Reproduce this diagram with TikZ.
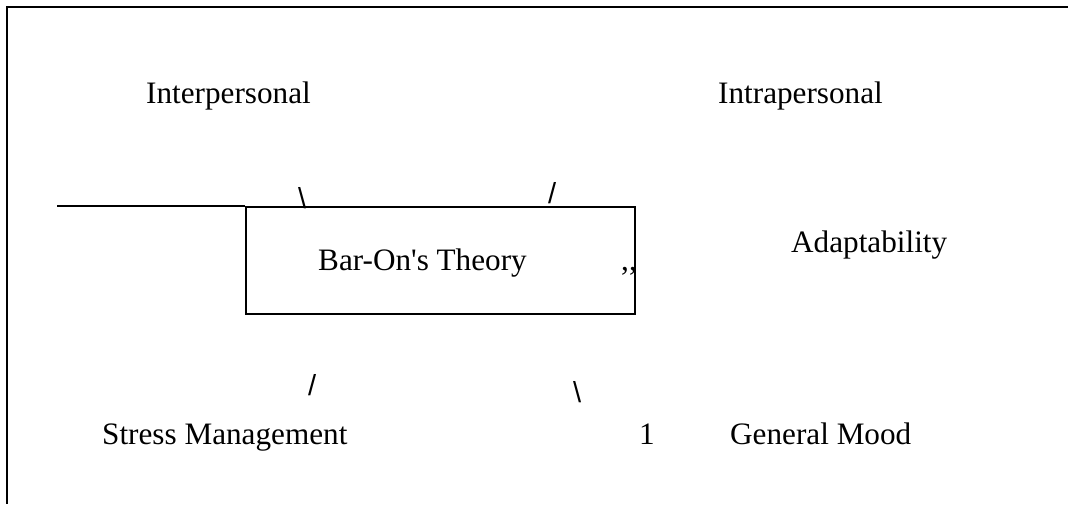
\documentclass[tikz,border=0pt]{standalone}
\usepackage{fontspec}
\setmainfont{Liberation Serif}
\newfontfamily\slashfont{Liberation Sans}
\begin{document}
\begin{tikzpicture}[x=1pt,y=-1pt,
  lbl/.style={inner sep=0pt,anchor=base west,font=\fontsize{31.2}{36}\selectfont},
  slashmark/.style={inner sep=0pt,anchor=base west,font=\slashfont\fontsize{29}{32}\selectfont},
  frameline/.style={line width=2pt},
  boxline/.style={line width=1.6pt}]
  \useasboundingbox (0,0) rectangle (1068,504);
  % page frame (top and left edges)
  \draw[frameline] (1068,7) -- (7,7) -- (7,504);
  % central box
  \node[draw,boxline,minimum width=389pt,minimum height=107pt,inner sep=0pt,anchor=north west]
    (theory) at (245,206) {};
  \node[lbl] (title) at (318,270) {Bar-On\textquotesingle s Theory};
  \coordinate (lead) at (57,206);
  \draw[boxline] (lead) -- (theory.north west);
  % outer labels
  \node[lbl] (inter) at (146,103) {Interpersonal};
  \node[lbl] (intra) at (718,103) {Intrapersonal};
  \node[lbl] (adapt) at (791,252) {Adaptability};
  \node[lbl] (stress) at (102,444) {Stress Management};
  \node[lbl] (one) at (639,444) {1};
  \node[lbl] (mood) at (730,444) {General Mood};
  % stray marks
  \node[slashmark] (m1) at (298,208) {\textbackslash};
  \node[slashmark] (m2) at (548,203) {/};
  \node[slashmark] (m3) at (308,395) {/};
  \node[slashmark] (m4) at (573,402) {\textbackslash};
  \node[lbl] (m5) at (621,270) {{,}{,}};
\end{tikzpicture}
\end{document}
